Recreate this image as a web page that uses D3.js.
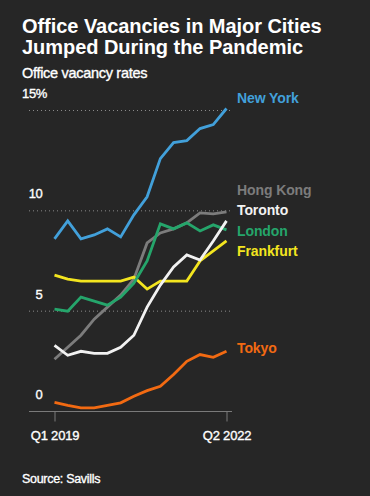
<!DOCTYPE html>
<html>
<head>
<meta charset="utf-8">
<script src="https://d3js.org/d3.v7.min.js"></script>
<style>
  html, body { margin: 0; padding: 0; background: #262626; }
  svg { display: block; }
  text { font-family: "Liberation Sans", Arial, sans-serif; }
</style>
</head>
<body>
<div id="chart"></div>
<script>
// Quarterly office vacancy rates, Q1 2019 .. Q2 2022 (14 quarters)
const quarters = ["Q1 2019","Q2 2019","Q3 2019","Q4 2019","Q1 2020","Q2 2020","Q3 2020",
                  "Q4 2020","Q1 2021","Q2 2021","Q3 2021","Q4 2021","Q1 2022","Q2 2022"];

const newYork   = [8.6, 9.5, 8.6, 8.8, 9.1, 8.7, 9.8, 10.7, 12.6, 13.4, 13.5, 14.1, 14.3, 15.1];
const hongKong  = [2.6, 3.2, 3.8, 4.6, 5.2, 5.8, 6.6, 8.4, 8.9, 9.1, 9.4, 9.9, 9.85, 9.95];
const toronto   = [3.3, 2.8, 3.0, 2.9, 2.9, 3.2, 3.8, 5.2, 6.3, 7.2, 7.8, 7.55, 8.5, 9.5];
const london    = [5.1, 5.0, 5.7, 5.5, 5.3, 5.7, 6.4, 7.5, 9.35, 9.1, 9.4, 9.0, 9.3, 9.05];
const frankfurt = [6.8, 6.6, 6.5, 6.5, 6.5, 6.5, 6.7, 6.1, 6.5, 6.5, 6.5, 7.5, 8.0, 8.5];
const tokyo     = [0.45, 0.3, 0.18, 0.18, 0.3, 0.43, 0.76, 1.04, 1.26, 1.84, 2.5, 2.84, 2.7, 3.0];

const yTicks = [0, 5, 10, 15];
const yTickLabels = ["0", "5", "10", "15%"];
const xTickIdx = [0, 13];

const series = [
  { name: "Hong Kong", values: hongKong,  color: "#7c7c7c", labelY: 195 },
  { name: "Tokyo",     values: tokyo,     color: "#f26a12", labelY: 353 },
  { name: "Frankfurt", values: frankfurt, color: "#f3e51f", labelY: 256 },
  { name: "London",    values: london,    color: "#25a56b", labelY: 236 },
  { name: "Toronto",   values: toronto,   color: "#f2f2f2", labelY: 215 },
  { name: "New York",  values: newYork,   color: "#42a0da", labelY: 103 }
];

const W = 370, H = 496;
const svg = d3.select("#chart").append("svg").attr("width", W).attr("height", H);
svg.append("rect").attr("width", W).attr("height", H).attr("fill", "#262626");

// faux-medium weight for the regular texts
function medium(sel, color) {
  return sel.attr("stroke", color).attr("stroke-width", 0.35).attr("paint-order", "stroke");
}

// Title block
svg.append("text").attr("x", 22).attr("y", 33)
  .attr("fill", "#fff").attr("font-size", 20).attr("font-weight", 700)
  .attr("letter-spacing", -0.05)
  .text("Office Vacancies in Major Cities");
svg.append("text").attr("x", 22).attr("y", 54)
  .attr("fill", "#fff").attr("font-size", 20).attr("font-weight", 700)
  .attr("letter-spacing", -0.05)
  .text("Jumped During the Pandemic");
medium(svg.append("text").attr("x", 22).attr("y", 77.5)
  .attr("fill", "#fff").attr("font-size", 14.5)
  .attr("letter-spacing", -0.3)
  .text("Office vacancy rates"), "#fff");

const x = d3.scaleLinear().domain([0, quarters.length - 1]).range([54.5, 226.5]);
const y = d3.scaleLinear().domain([0, 15]).range([411.5, 110.5]);

// Gridlines (dotted) for non-zero ticks
svg.append("g").selectAll("line")
  .data(yTicks.filter(d => d > 0))
  .join("line")
  .attr("x1", 29).attr("x2", 231)
  .attr("y1", d => y(d)).attr("y2", d => y(d))
  .attr("stroke", "#8a8a8a").attr("stroke-width", 1)
  .attr("stroke-dasharray", "1,3");

// Y labels
medium(svg.append("g").selectAll("text")
  .data(yTicks)
  .join("text")
  .attr("x", (d, i) => yTickLabels[i].endsWith("%") ? 22 : 42.5)
  .attr("text-anchor", (d, i) => yTickLabels[i].endsWith("%") ? "start" : "end")
  .attr("y", d => y(d) - 12.5)
  .attr("fill", "#fff").attr("font-size", 13)
  .attr("letter-spacing", -0.3)
  .text((d, i) => yTickLabels[i]), "#fff");

// X axis
const xAxis = d3.axisBottom(x)
  .tickValues(xTickIdx)
  .tickSize(10)
  .tickPadding(9)
  .tickFormat(i => quarters[i]);
const gx = svg.append("g").attr("transform", `translate(0,${y(0)})`).call(xAxis);
gx.select(".domain").remove();
gx.selectAll(".tick line").attr("stroke", "#7a7a7a");
medium(gx.selectAll(".tick text").attr("fill", "#fff").attr("font-size", 13)
  .attr("font-family", "Liberation Sans, Arial, sans-serif")
  .attr("letter-spacing", -0.2), "#fff");
svg.append("line")
  .attr("x1", 29).attr("x2", 232)
  .attr("y1", y(0)).attr("y2", y(0))
  .attr("stroke", "#7a7a7a").attr("stroke-width", 1.2);

// Lines
const line = d3.line().x((d, i) => x(i)).y(d => y(d));
svg.append("g").selectAll("path")
  .data(series)
  .join("path")
  .attr("d", d => line(d.values))
  .attr("fill", "none")
  .attr("stroke", d => d.color)
  .attr("stroke-width", 2.8)
  .attr("stroke-linejoin", "miter");

// Labels
svg.append("g").selectAll("text")
  .data(series)
  .join("text")
  .attr("x", 237)
  .attr("y", d => d.labelY)
  .attr("fill", d => d.color)
  .attr("font-size", 14)
  .attr("font-weight", 700)
  .attr("letter-spacing", -0.1)
  .text(d => d.name);

// Source
medium(svg.append("text").attr("x", 22).attr("y", 483)
  .attr("fill", "#fff").attr("font-size", 12.5)
  .attr("letter-spacing", -0.3)
  .text("Source: Savills"), "#fff");
</script>
</body>
</html>
